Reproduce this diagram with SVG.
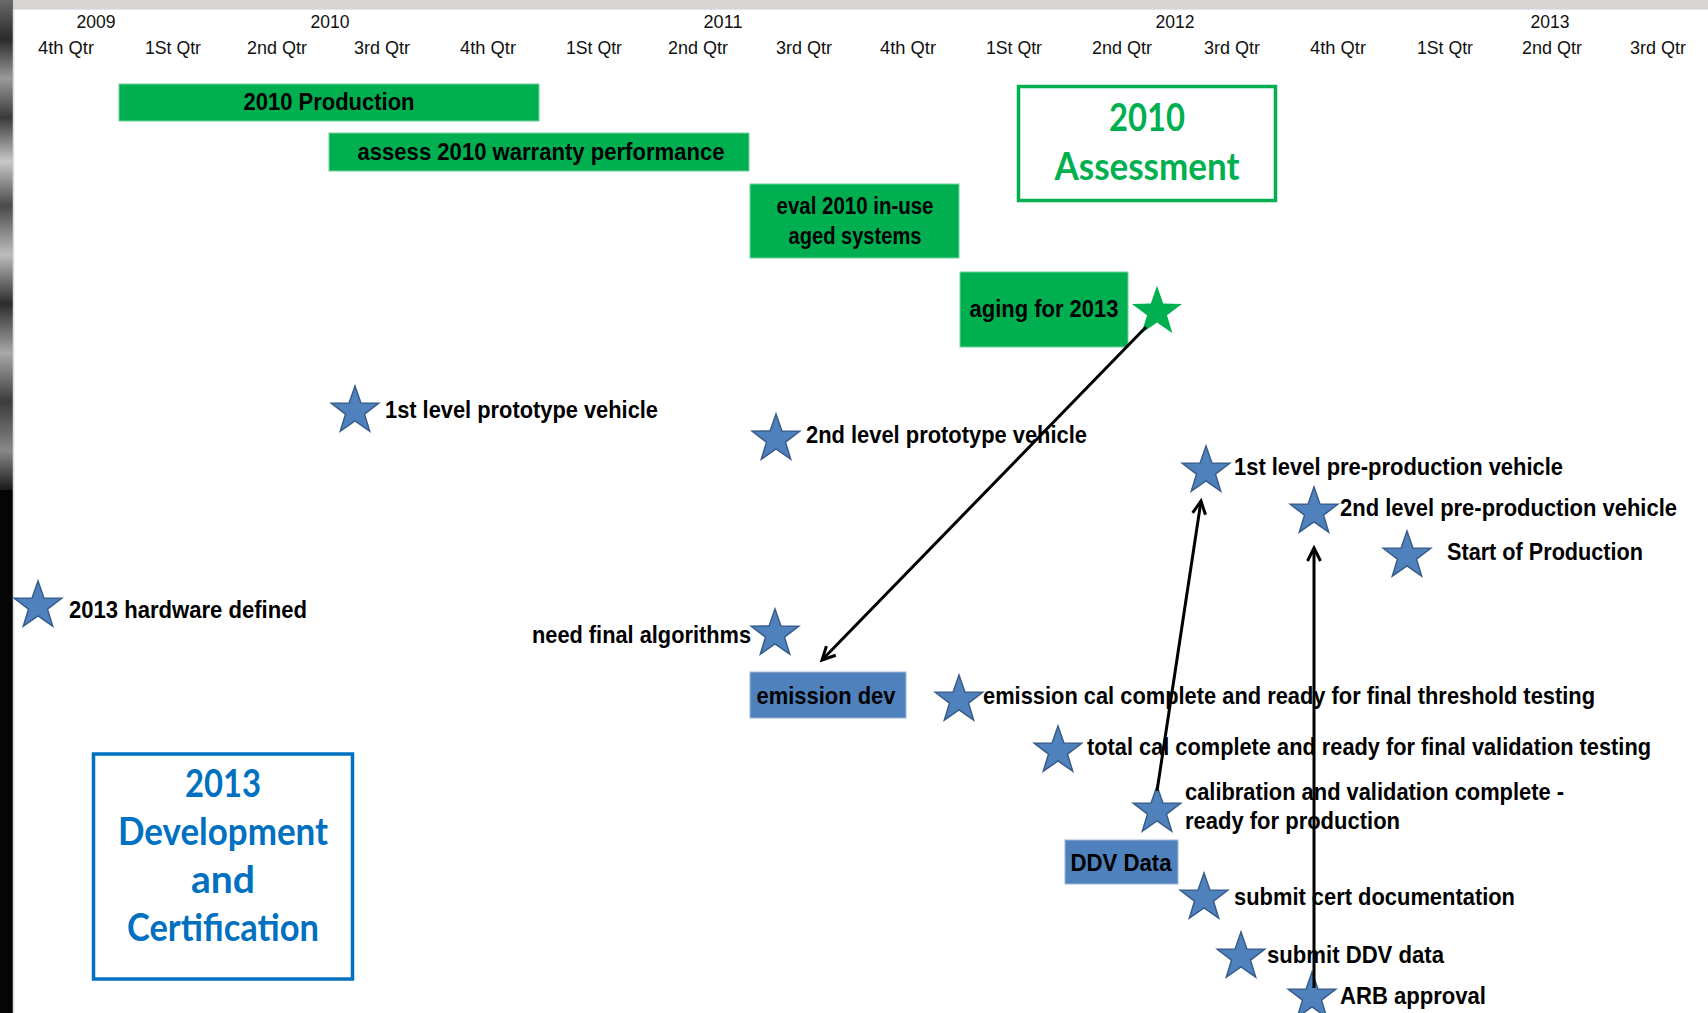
<svg xmlns="http://www.w3.org/2000/svg" width="1708" height="1013" viewBox="0 0 1708 1013">
  <style>
    .yr { font-family: "Liberation Sans", Arial, sans-serif; font-size: 19px; fill: #111; text-anchor: middle; }
    .qt { font-family: "Liberation Sans", Arial, sans-serif; font-size: 19px; fill: #111; text-anchor: middle; }
    .lb { font-family: "Liberation Sans", Arial, sans-serif; font-size: 24px; font-weight: bold; fill: #000; }
    .mid { text-anchor: middle; }
    .end { text-anchor: end; }
    .bar { fill: #00B050; stroke: #6fd39a; stroke-width: 1; }
    .bbar { fill: #4F81BD; stroke: #9db6d8; stroke-width: 1; }
    .ms { fill: #4F81BD; stroke: #385D8A; stroke-width: 1.5; }
    .gs { fill: #00B050; }
    .ttl { font-family: Lato, "Open Sans", sans-serif; font-size: 38px; font-weight: bold; text-anchor: middle; }
    .conn { stroke: #000; stroke-width: 3; fill: none; marker-end: url(#open); }
  </style>
  <defs>
    <path id="star" d="M0,-25 L5.9,-8.1 L23.78,-7.73 L9.5,3.1 L14.69,20.23 L0,10 L-14.69,20.23 L-9.5,3.1 L-23.78,-7.73 L-5.9,-8.1 Z"/>
    <marker id="open" markerUnits="userSpaceOnUse" markerWidth="18" markerHeight="16" refX="15" refY="8" orient="auto">
      <path d="M2,1.5 L15,8 L2,14.5" fill="none" stroke="#000" stroke-width="3"/>
    </marker>
    <linearGradient id="photo" x1="0" y1="0" x2="0" y2="1">
      <stop offset="0" stop-color="#6a6a6a"/>
      <stop offset="0.08" stop-color="#2a2a2a"/>
      <stop offset="0.16" stop-color="#9a9a9a"/>
      <stop offset="0.24" stop-color="#3a3a3a"/>
      <stop offset="0.33" stop-color="#c8c8c8"/>
      <stop offset="0.42" stop-color="#4a4a4a"/>
      <stop offset="0.52" stop-color="#bdbdbd"/>
      <stop offset="0.62" stop-color="#2c2c2c"/>
      <stop offset="0.72" stop-color="#a8a8a8"/>
      <stop offset="0.82" stop-color="#3c3c3c"/>
      <stop offset="0.92" stop-color="#888"/>
      <stop offset="1" stop-color="#1a1a1a"/>
    </linearGradient>
  </defs>

  <!-- page background and frame -->
  <rect x="0" y="0" width="1708" height="1013" fill="#ffffff"/>
  <rect x="0" y="0" width="1708" height="9" fill="#d7d4d4"/>
  <line x1="13" y1="9.5" x2="1708" y2="9.5" stroke="#dfe6f0" stroke-width="1"/>
  <rect x="0" y="0" width="13" height="1013" fill="#050505"/>
  <rect x="0" y="0" width="13" height="490" fill="url(#photo)"/>
  <line x1="13.5" y1="9" x2="13.5" y2="1013" stroke="#d5deec" stroke-width="1.5"/>

  <!-- timeline header -->
  <g id="timeline">
    <text class="yr" x="96" y="28" textLength="39" lengthAdjust="spacingAndGlyphs">2009</text>
    <text class="yr" x="330" y="28" textLength="39" lengthAdjust="spacingAndGlyphs">2010</text>
    <text class="yr" x="723" y="28" textLength="39" lengthAdjust="spacingAndGlyphs">2011</text>
    <text class="yr" x="1175" y="28" textLength="39" lengthAdjust="spacingAndGlyphs">2012</text>
    <text class="yr" x="1550" y="28" textLength="39" lengthAdjust="spacingAndGlyphs">2013</text>
    <text class="qt" x="66" y="54" textLength="56" lengthAdjust="spacingAndGlyphs">4th Qtr</text>
    <text class="qt" x="173" y="54" textLength="56" lengthAdjust="spacingAndGlyphs">1St Qtr</text>
    <text class="qt" x="277" y="54" textLength="60" lengthAdjust="spacingAndGlyphs">2nd Qtr</text>
    <text class="qt" x="382" y="54" textLength="56" lengthAdjust="spacingAndGlyphs">3rd Qtr</text>
    <text class="qt" x="488" y="54" textLength="56" lengthAdjust="spacingAndGlyphs">4th Qtr</text>
    <text class="qt" x="594" y="54" textLength="56" lengthAdjust="spacingAndGlyphs">1St Qtr</text>
    <text class="qt" x="698" y="54" textLength="60" lengthAdjust="spacingAndGlyphs">2nd Qtr</text>
    <text class="qt" x="804" y="54" textLength="56" lengthAdjust="spacingAndGlyphs">3rd Qtr</text>
    <text class="qt" x="908" y="54" textLength="56" lengthAdjust="spacingAndGlyphs">4th Qtr</text>
    <text class="qt" x="1014" y="54" textLength="56" lengthAdjust="spacingAndGlyphs">1St Qtr</text>
    <text class="qt" x="1122" y="54" textLength="60" lengthAdjust="spacingAndGlyphs">2nd Qtr</text>
    <text class="qt" x="1232" y="54" textLength="56" lengthAdjust="spacingAndGlyphs">3rd Qtr</text>
    <text class="qt" x="1338" y="54" textLength="56" lengthAdjust="spacingAndGlyphs">4th Qtr</text>
    <text class="qt" x="1445" y="54" textLength="56" lengthAdjust="spacingAndGlyphs">1St Qtr</text>
    <text class="qt" x="1552" y="54" textLength="60" lengthAdjust="spacingAndGlyphs">2nd Qtr</text>
    <text class="qt" x="1658" y="54" textLength="56" lengthAdjust="spacingAndGlyphs">3rd Qtr</text>
  </g>

  <!-- 2010 assessment tasks -->
  <g id="prod2010">
    <rect class="bar" x="119" y="84" width="420" height="37"/>
    <text class="lb mid" x="329" y="110" textLength="171" lengthAdjust="spacingAndGlyphs">2010 Production</text>
  </g>
  <g id="warranty">
    <rect class="bar" x="329" y="133" width="420" height="38"/>
    <text class="lb mid" x="541" y="160" textLength="367" lengthAdjust="spacingAndGlyphs">assess 2010 warranty performance</text>
  </g>
  <g id="eval-inuse">
    <rect class="bar" x="750" y="184" width="209" height="74"/>
    <text class="lb mid" x="855" y="214" textLength="157" lengthAdjust="spacingAndGlyphs">eval 2010 in-use</text>
    <text class="lb mid" x="855" y="244" textLength="133" lengthAdjust="spacingAndGlyphs">aged systems</text>
  </g>
  <g id="aging">
    <rect class="bar" x="960" y="272" width="168" height="75"/>
    <text class="lb mid" x="1044" y="317" textLength="149" lengthAdjust="spacingAndGlyphs">aging for 2013</text>
  </g>
  <g id="aging-star">
    <use href="#star" class="gs" transform="translate(1157,312) scale(1.05)"/>
  </g>
  <g id="assessment-title">
    <rect x="1018.5" y="86.5" width="257" height="114" fill="none" stroke="#00B050" stroke-width="3.5"/>
    <text class="ttl" x="1147" y="131" fill="#00B050" textLength="76" lengthAdjust="spacingAndGlyphs">2010</text>
    <text class="ttl" x="1147" y="180" fill="#00B050" textLength="185" lengthAdjust="spacingAndGlyphs">Assessment</text>
  </g>

  <!-- 2013 development milestones -->
  <g id="proto1">
    <use href="#star" class="ms" transform="translate(355,411)"/>
    <text class="lb" x="385" y="418" textLength="273" lengthAdjust="spacingAndGlyphs">1st level prototype vehicle</text>
  </g>
  <g id="proto2">
    <use href="#star" class="ms" transform="translate(776,439)"/>
    <text class="lb" x="806" y="443" textLength="281" lengthAdjust="spacingAndGlyphs">2nd level prototype vehicle</text>
  </g>
  <g id="preprod1">
    <use href="#star" class="ms" transform="translate(1206,471)"/>
    <text class="lb" x="1234" y="475" textLength="329" lengthAdjust="spacingAndGlyphs">1st level pre-production vehicle</text>
  </g>
  <g id="preprod2">
    <use href="#star" class="ms" transform="translate(1314,512)"/>
    <text class="lb" x="1340" y="516" textLength="337" lengthAdjust="spacingAndGlyphs">2nd level pre-production vehicle</text>
  </g>
  <g id="sop">
    <use href="#star" class="ms" transform="translate(1407,556)"/>
    <text class="lb" x="1447" y="560" textLength="196" lengthAdjust="spacingAndGlyphs">Start of Production</text>
  </g>
  <g id="hardware">
    <use href="#star" class="ms" transform="translate(38,606)"/>
    <text class="lb" x="69" y="618" textLength="238" lengthAdjust="spacingAndGlyphs">2013 hardware defined</text>
  </g>
  <g id="algorithms">
    <use href="#star" class="ms" transform="translate(775,634)"/>
    <text class="lb end" x="751" y="643" textLength="219" lengthAdjust="spacingAndGlyphs">need final algorithms</text>
  </g>
  <g id="emission-dev">
    <rect class="bbar" x="750" y="672" width="156" height="46"/>
    <text class="lb mid" x="826" y="704" textLength="139" lengthAdjust="spacingAndGlyphs">emission dev</text>
  </g>
  <g id="emission-cal">
    <use href="#star" class="ms" transform="translate(959,700)"/>
    <text class="lb" x="983" y="704" textLength="612" lengthAdjust="spacingAndGlyphs">emission cal complete and ready for final threshold testing</text>
  </g>
  <g id="total-cal">
    <use href="#star" class="ms" transform="translate(1058,751)"/>
    <text class="lb" x="1087" y="755" textLength="564" lengthAdjust="spacingAndGlyphs">total cal complete and ready for final validation testing</text>
  </g>
  <g id="calibration">
    <use href="#star" class="ms" transform="translate(1157,811)"/>
    <text class="lb" x="1185" y="800" textLength="379" lengthAdjust="spacingAndGlyphs">calibration and validation complete -</text>
    <text class="lb" x="1185" y="829" textLength="215" lengthAdjust="spacingAndGlyphs">ready for production</text>
  </g>
  <g id="ddv-data">
    <rect class="bbar" x="1065" y="840" width="113" height="44"/>
    <text class="lb mid" x="1121" y="871" textLength="101" lengthAdjust="spacingAndGlyphs">DDV Data</text>
  </g>
  <g id="cert-doc">
    <use href="#star" class="ms" transform="translate(1204,898)"/>
    <text class="lb" x="1234" y="905" textLength="281" lengthAdjust="spacingAndGlyphs">submit cert documentation</text>
  </g>
  <g id="submit-ddv">
    <use href="#star" class="ms" transform="translate(1241,957)"/>
    <text class="lb" x="1267" y="963" textLength="177" lengthAdjust="spacingAndGlyphs">submit DDV data</text>
  </g>
  <g id="arb">
    <use href="#star" class="ms" transform="translate(1312,997)"/>
    <text class="lb" x="1340" y="1004" textLength="146" lengthAdjust="spacingAndGlyphs">ARB approval</text>
  </g>
  <g id="dev-cert-title">
    <rect x="93.5" y="754" width="259" height="225" fill="none" stroke="#0070C0" stroke-width="3.5"/>
    <text class="ttl" x="223" y="797" fill="#0070C0" textLength="76" lengthAdjust="spacingAndGlyphs">2013</text>
    <text class="ttl" x="223" y="845" fill="#0070C0" textLength="210" lengthAdjust="spacingAndGlyphs">Development</text>
    <text class="ttl" x="223" y="893" fill="#0070C0" textLength="64" lengthAdjust="spacingAndGlyphs">and</text>
    <text class="ttl" x="223" y="941" fill="#0070C0" textLength="192" lengthAdjust="spacingAndGlyphs">Certification</text>
  </g>

  <!-- connectors -->
  <g id="connectors">
    <line class="conn" x1="1146" y1="327" x2="822" y2="660"/>
    <line class="conn" x1="1157" y1="791" x2="1201" y2="501"/>
    <line class="conn" x1="1314" y1="988" x2="1314" y2="548"/>
  </g>
</svg>
